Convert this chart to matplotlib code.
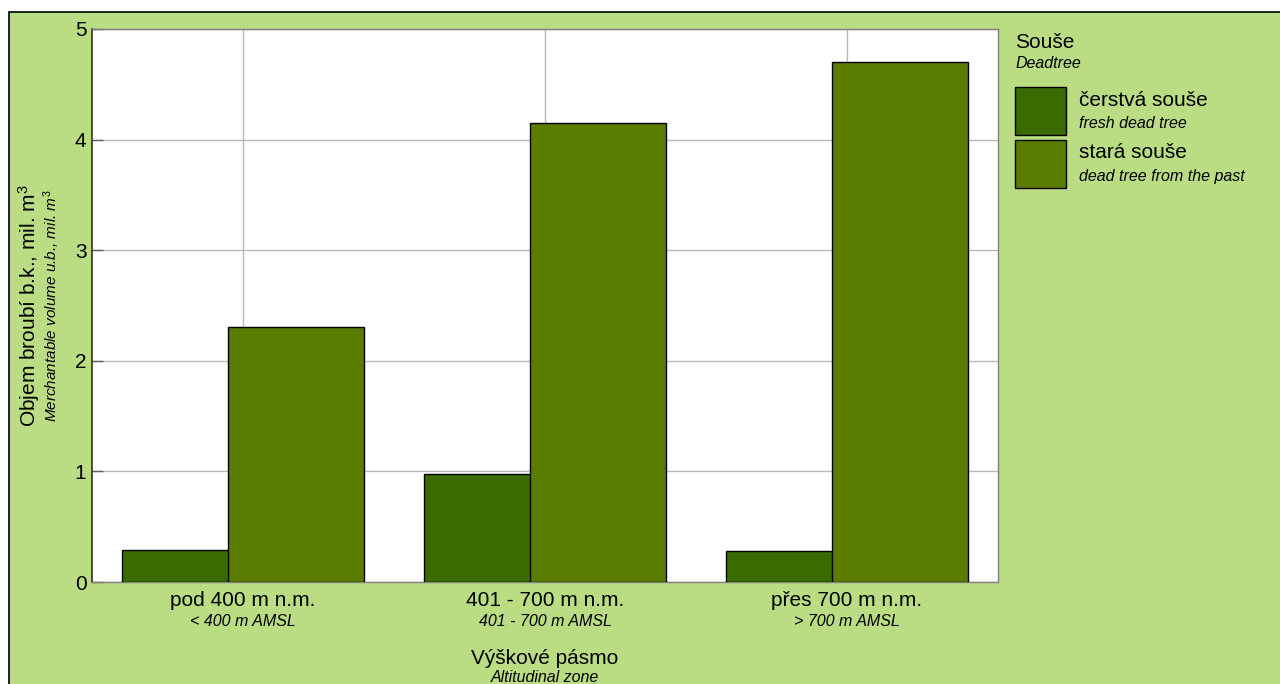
import matplotlib
matplotlib.use("Agg")
import matplotlib.pyplot as plt
from matplotlib.patches import Rectangle
import matplotlib.transforms as mtransforms
import numpy as np

plt.rcParams['font.family'] = ['Liberation Sans', 'DejaVu Sans']
plt.rcParams['mathtext.fontset'] = 'custom'
plt.rcParams['mathtext.rm'] = 'Liberation Sans'
plt.rcParams['mathtext.it'] = 'Liberation Sans:italic'

# ---- data ----
categories_cz = ["pod 400 m n.m.", "401 - 700 m n.m.", "přes 700 m n.m."]
categories_en = ["< 400 m AMSL", "401 - 700 m AMSL", "> 700 m AMSL"]
fresh_values = [0.29, 0.98, 0.28]
old_values = [2.31, 4.15, 4.70]
series_cz = ["čerstvá souše", "stará souše"]
series_en = ["fresh dead tree", "dead tree from the past"]
yticks = [0, 1, 2, 3, 4, 5]

W, H = 1280, 684
BG = "#BADC82"
C_FRESH = "#3A6B00"
C_OLD = "#5A7C00"

fig = plt.figure(figsize=(W / 100, H / 100), dpi=100)
fig.patch.set_facecolor("white")

def fx(x):
    return x / W

def fy(y):
    return 1 - y / H

# green panel with black border (top and left visible)
fig.patches.append(Rectangle((fx(9), -0.01), 1.02, fy(12) + 0.01,
                             transform=fig.transFigure, facecolor=BG,
                             edgecolor="black", linewidth=1.2, zorder=-10))

L, R, T, B = 92, 998, 29, 582
ax = fig.add_axes([fx(L), fy(B), fx(R - L), (B - T) / H])
ax.set_facecolor("white")
ax.set_xlim(0, 3)
ax.set_ylim(0, 5)

x = np.arange(len(categories_cz)) + 0.5
w = 0.45
ax.bar(x - 0.175, fresh_values, width=w, color=C_FRESH, edgecolor="black",
       linewidth=1, zorder=3)
ax.bar(x + 0.175, old_values, width=w, color=C_OLD, edgecolor="black",
       linewidth=1, zorder=4)

ax.set_yticks(yticks)
ax.set_yticklabels([str(v) for v in yticks], fontsize=15)
ax.set_xticks(x)
ax.set_xticklabels([])
ax.tick_params(axis="x", length=0)
ax.tick_params(axis="y", direction="in", length=8, width=1, color="#606060",
               pad=4, labelcolor="black")
ax.grid(True, color="#B8B8B8", linewidth=1, zorder=1)
ax.set_axisbelow(True)

ax.spines["left"].set_color("#303030")
ax.spines["left"].set_linewidth(1.2)
for s in ["top", "right", "bottom"]:
    ax.spines[s].set_color("#808080")
    ax.spines[s].set_linewidth(1)

# category labels
trans = mtransforms.blended_transform_factory(ax.transData, fig.transFigure)
for xi, cz, en in zip(x, categories_cz, categories_en):
    ax.text(xi, fy(601), cz, transform=trans, ha="center", va="center",
            fontsize=15, clip_on=False)
    ax.text(xi, fy(621), en, transform=trans, ha="center", va="center",
            fontsize=11.5, style="italic", clip_on=False)

# x axis title
xc = fx((L + R) / 2)
fig.text(xc, fy(659), "Výškové pásmo", ha="center", va="center", fontsize=15)
fig.text(xc, fy(677), "Altitudinal zone", ha="center", va="center",
         fontsize=11.5, style="italic")

# y axis title
yc = fy((T + B) / 2)
fig.text(fx(29), yc, "Objem broubí b.k., mil. m$^{3}$", rotation=90,
         ha="center", va="center", fontsize=15)
fig.text(fx(52), yc, "Merchantable volume u.b., mil. $m^{3}$", rotation=90,
         ha="center", va="center", fontsize=11, style="italic")

# legend
fig.text(fx(1015), fy(43), "Souše", ha="left", va="center", fontsize=15)
fig.text(fx(1015), fy(63), "Deadtree", ha="left", va="center", fontsize=11.5,
         style="italic")
colors = [C_FRESH, C_OLD]
tops = [87, 140]
for top, col, cz, en in zip(tops, colors, series_cz, series_en):
    fig.patches.append(Rectangle((fx(1015), fy(top + 48)), fx(51), 48 / H,
                                 transform=fig.transFigure, facecolor=col,
                                 edgecolor="black", linewidth=1, zorder=2))
    fig.text(fx(1079), fy(top + 13), cz, ha="left", va="center", fontsize=15)
    fig.text(fx(1079), fy(top + 36), en, ha="left", va="center", fontsize=11.5,
             style="italic")

fig.savefig("out.png", dpi=100, facecolor=fig.get_facecolor())
